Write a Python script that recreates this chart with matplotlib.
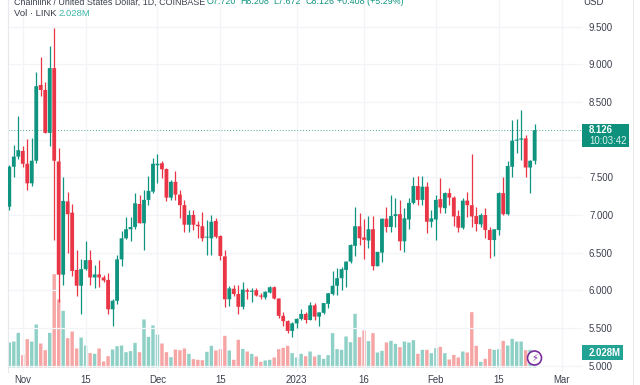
import matplotlib
matplotlib.use("Agg")
import matplotlib.pyplot as plt
from matplotlib.transforms import IdentityTransform
import numpy as np

plt.rcParams['font.family'] = ['Liberation Sans', 'DejaVu Sans']

opens = [7.11,7.64,7.775,7.85,7.68,7.42,7.72,8.726,8.66,8.09,8.95,7.71,6.207,7.18,7.03,6.27,6.06,6.28,6.40,6.17,6.21,6.17,6.137,5.747,5.86,6.41,6.69,6.81,6.84,7.146,6.89,7.2,7.31,7.66,7.686,7.61,7.23,7.44,7.27,7.13,6.87,7.0,6.87,6.85,6.70,6.69,
         6.92,6.72,6.45,5.88,6.02,5.95,5.78,6.0,5.98,6.0,5.93,5.905,5.97,6.04,5.89,5.66,5.59,5.46,5.56,5.62,5.685,5.605,5.80,5.65,5.70,5.82,5.95,6.06,6.16,6.27,6.38,6.59,6.85,6.70,6.66,6.81,6.32,6.50,6.95,6.84,6.985,7.01,6.65,6.94,7.16,7.384,7.2,
         7.375,6.91,6.94,7.21,7.09,7.29,7.23,6.985,6.83,7.19,7.13,6.985,6.875,6.999,6.80,6.667,6.80,7.29,7.01,7.64,7.986,8.0,8.017,7.63,7.72]
highs = [7.66,7.93,8.32,7.92,8.01,8.02,8.895,9.10,8.77,9.25,9.48,7.89,7.50,7.31,7.15,6.535,6.41,6.66,6.54,6.34,6.40,6.20,6.23,5.89,6.47,6.79,6.97,6.97,7.29,7.27,7.33,7.52,7.75,7.81,7.72,7.62,7.47,7.59,7.33,7.2,7.07,7.07,6.92,7.04,6.93,7.0,
         6.955,6.73,6.53,6.06,6.07,6.07,6.105,6.03,6.03,6.03,5.96,5.99,6.05,6.06,5.90,5.715,5.605,5.58,5.63,5.75,5.715,5.85,5.83,5.715,5.835,5.97,6.25,6.30,6.31,6.39,6.62,7.10,7.03,6.94,6.985,6.985,6.51,6.955,7.10,7.265,7.23,7.2,7.09,7.22,7.51,7.52,7.52,
         7.44,7.07,7.27,7.495,7.31,7.36,7.25,7.06,7.22,7.30,7.81,7.11,7.03,7.09,6.84,6.82,7.30,7.50,7.71,8.26,8.28,8.39,8.06,7.73,8.208]
lows = [7.07,7.50,7.74,7.64,7.33,7.385,7.69,8.58,8.09,7.91,6.67,5.85,6.07,6.50,6.19,5.93,5.68,6.27,6.07,6.03,6.04,6.115,5.69,5.52,5.82,6.32,6.68,6.66,6.82,6.89,6.535,7.13,7.29,7.42,7.49,7.19,7.2,7.2,6.96,6.77,6.78,6.8,6.69,6.65,6.47,6.47,
        6.69,6.40,5.78,5.795,5.93,5.685,5.75,5.89,5.85,5.92,5.88,5.89,5.96,5.88,5.635,5.52,5.43,5.385,5.50,5.605,5.57,5.60,5.60,5.52,5.69,5.76,5.94,5.94,6.0,6.04,6.36,6.455,6.60,6.41,6.56,6.27,6.32,6.38,6.78,6.78,6.84,6.54,6.51,6.82,7.15,7.13,7.13,
        6.755,6.835,6.67,7.03,7.02,7.13,6.85,6.77,6.82,6.97,6.84,6.79,6.84,6.69,6.43,6.45,6.73,7.0,7.0,7.50,7.82,7.73,7.50,7.295,7.672]
closes = [7.64,7.775,7.86,7.68,7.42,7.72,8.71,8.66,8.09,8.95,7.72,6.207,7.186,7.01,6.256,6.06,6.28,6.40,6.17,6.21,6.17,6.13,5.747,5.86,6.41,6.69,6.81,6.84,7.155,6.89,7.2,7.32,7.68,7.68,7.606,7.23,7.44,7.27,7.13,6.87,7.0,6.87,6.85,6.69,6.71,6.91,
          6.71,6.455,5.88,6.025,5.95,5.78,6.01,5.98,5.995,5.93,5.915,5.98,6.04,5.89,5.66,5.59,5.46,5.56,5.62,5.685,5.605,5.80,5.65,5.706,5.83,5.96,6.06,6.16,6.28,6.38,6.60,6.85,6.69,6.67,6.81,6.32,6.51,6.95,6.84,6.985,7.01,6.65,6.955,7.16,7.384,7.2,7.375,
          6.91,6.955,7.2,7.10,7.29,7.23,6.98,6.83,7.19,7.13,6.98,6.88,6.999,6.80,6.667,6.81,7.29,7.01,7.65,7.986,8.0,8.017,7.63,7.72,8.126]
volumes = [3.38,3.51,4.68,1.67,3.83,3.51,5.81,3.24,2.34,4.68,12.61,9.19,7.66,3.96,4.86,2.57,4.05,2.97,1.94,1.85,2.57,0.81,1.53,2.43,2.88,2.97,2.07,2.21,3.33,2.07,6.49,4.14,5.68,4.46,3.24,2.07,1.40,2.43,2.34,2.57,1.85,1.13,1.04,0.99,2.12,2.93,
           2.30,2.48,4.28,2.30,1.04,3.74,2.52,2.16,1.85,1.49,0.77,0.95,1.04,1.35,2.48,2.66,2.93,1.94,1.35,1.85,1.53,2.16,1.49,1.71,1.17,1.67,4.64,2.48,2.39,4.19,3.42,7.25,4.10,5.00,3.56,4.64,2.03,2.25,3.38,3.60,3.20,2.75,3.51,3.38,3.69,1.85,2.39,
           2.39,1.94,2.61,2.79,1.94,1.08,1.71,1.35,2.16,2.03,7.48,2.93,0.77,1.17,2.52,2.39,2.48,3.60,2.97,3.87,3.51,3.51,2.34,2.39,2.028]

x_tick_idx = [3, 17, 33, 47, 64, 79, 95, 109, 123]
x_tick_labels = ['Nov', '15', 'Dec', '15', '2023', '16', 'Feb', '15', 'Mar']
y_ticks = [5.0, 5.5, 6.0, 6.5, 7.0, 7.5, 8.0, 8.5, 9.0, 9.5]
y_tick_labels = ['5.000', '5.500', '6.000', '6.500', '7.000', '7.500', '', '8.500', '9.000', '9.500']
title_text = 'Chainlink / United States Dollar, 1D, COINBASE'
ohlc_parts = ['O7.720', 'H8.208', 'L7.672', 'C8.126', '+0.408 (+5.29%)']

GREEN = '#0f9480'
RED = '#ea3546'
VGREEN = '#8fd0c6'
VRED = '#f6a5a5'
TEXT = '#3a3e4c'
GRID = '#f3f4f7'
FS = 6.9
HS = 6.4

W, H = 640, 385
fig = plt.figure(figsize=(W/100, H/100), dpi=100, facecolor='white')
L, R, T, B = 8, 583, 0, 372
rect = [L/W, 1-B/H, (R-L)/W, (B-T)/H]
ax = fig.add_axes(rect)
vol = ax.twinx()
ax.set_zorder(vol.get_zorder()+1)
ax.patch.set_visible(False)

px_per_unit = 75.3
ax.set_ylim(8.5-(B-102)/px_per_unit, 8.5+(102-T)/px_per_unit)
px_per_day = 4.49
ax.set_xlim(-(9.3-L)/px_per_day, (R-9.3)/px_per_day)
vol_scale = 7.4
vol.set_ylim(-(B-367.5)/vol_scale, (367.5-T)/vol_scale)
vol.set_yticks([])

days = np.arange(len(opens))
o, h, l, c = map(np.array, (opens, highs, lows, closes))
up = c >= o
colors = [GREEN if u else RED for u in up]
ax.vlines(days, l, h, colors=colors, linewidth=0.9, zorder=3)
ax.bar(days, np.maximum(np.abs(c-o), 0.012), bottom=np.minimum(o, c), width=0.85, color=colors, linewidth=0, zorder=4, snap=False)
vol.bar(days, volumes, width=0.76, color=[VGREEN if u else VRED for u in up], linewidth=0, snap=False)

ax.set_xticks(x_tick_idx)
ax.set_xticklabels(x_tick_labels)
ax.set_yticks(y_ticks)
ax.set_yticklabels(y_tick_labels)
ax.yaxis.tick_right()
ax.tick_params(axis='x', length=0, pad=2, labelsize=FS, labelcolor=TEXT)
ax.tick_params(axis='y', length=0, pad=4.3, labelsize=FS, labelcolor=TEXT)
ax.grid(True, color=GRID, linewidth=0.9, zorder=0)
ax.set_axisbelow(True)
vol.set_axisbelow(True)
for a in (ax, vol):
    for s in a.spines.values():
        s.set_visible(False)
ax.spines['left'].set_visible(True)
ax.spines['left'].set_color('#e6e8ec')
ax.spines['left'].set_linewidth(0.8)

last = closes[-1]
ax.axhline(last, color='#4aa898', linestyle=(0, (1, 2)), linewidth=0.7, zorder=2)

def ppx(px, py):
    return (px/W, 1-py/H)

fig.add_artist(plt.Line2D([633/W, 633/W], [0, 1], color='#e8eaee', linewidth=0.8))

badge = plt.Rectangle(ppx(582, 147), 47/W, 23/H, transform=fig.transFigure, facecolor='#0d917c', edgecolor='none', zorder=20)
fig.add_artist(badge)
fig.text(589/W, 1-130.5/H, f'{last:.3f}', color='white', fontsize=FS, fontweight='bold', va='center', zorder=21)
fig.text(589/W, 1-141/H, '10:03:42', color='#dff2ee', fontsize=FS, va='center', zorder=21)
badge2 = plt.Rectangle(ppx(582, 360), 41/W, 15/H, transform=fig.transFigure, facecolor='#22a394', edgecolor='none', zorder=20)
fig.add_artist(badge2)
fig.text(589/W, 1-352.5/H, '2.028M', color='white', fontsize=FS, fontweight='bold', va='center', zorder=21)

fig.text(14/W, 1-2/H, title_text, color=TEXT, fontsize=HS, va='center')
xs = [207, 240, 273, 305, 337]
for xp, s in zip(xs, ohlc_parts):
    fig.text(xp/W, 1-2/H, s, color='#0f9480', fontsize=HS, va='center')
fig.text(14/W, 1-14/H, 'Vol \u00b7 LINK', color=TEXT, fontsize=HS+0.4, va='center')
fig.text(58/W, 1-14/H, '2.028M', color='#3cb5a6', fontsize=HS+0.4, va='center')
fig.text(604/W, 1-2/H, 'USD', color=TEXT, fontsize=FS, va='center', ha='right')

icon = plt.Circle((534.5, H-358), 7, transform=IdentityTransform(), facecolor='white', edgecolor='#7b2d9e', linewidth=1.2, zorder=30)
fig.add_artist(icon)
fig.text(534.5/W, 1-358/H, '\u26a1', color='#7b2d9e', fontsize=7, ha='center', va='center', family='DejaVu Sans', zorder=31)

fig.savefig('out.png', dpi=100)
